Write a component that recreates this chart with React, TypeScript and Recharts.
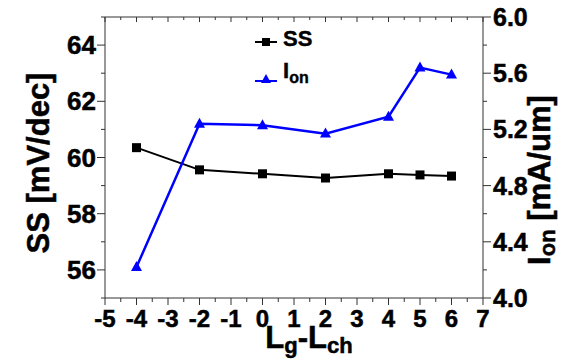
import { Legend, Line, LineChart, ReferenceLine, XAxis, YAxis } from 'recharts';

document.body.style.margin = '0';

const FONT = '"Liberation Sans", Arial, sans-serif';
const AXIS = '#333';
const PLOT_H = 281;

// Lg - Lch offsets and the two series
const gateOffsets = [-4, -2, 0, 2, 4, 5, 6];
const ssValues = [60.35, 59.56, 59.42, 59.27, 59.42, 59.38, 59.34];
const ionValues = [4.22, 5.24, 5.23, 5.17, 5.29, 5.64, 5.59];

const xTicks = [-5, -4.5, -4, -3.5, -3, -2.5, -2, -1.5, -1, -0.5, 0, 0.5, 1, 1.5, 2, 2.5, 3, 3.5, 4, 4.5, 5, 5.5, 6, 6.5, 7];
const xTickLabels = [-5, -4, -3, -2, -1, 0, 1, 2, 3, 4, 5, 6, 7];
const ssTicks = [55, 56, 57, 58, 59, 60, 61, 62, 63, 64, 65];
const ssTickLabels = [56, 58, 60, 62, 64];
const ionTicks = [4.0, 4.2, 4.4, 4.6, 4.8, 5.0, 5.2, 5.4, 5.6, 5.8, 6.0];
const ionTickLabels = ['4.0', '4.4', '4.8', '5.2', '5.6', '6.0'];

const rows = gateOffsets.map((x, i) => ({ x, ss: ssValues[i], ion: ionValues[i] }));

// heavier than plain bold, like the original export
const tickText = { fontFamily: FONT, fontWeight: 700, fill: '#000', stroke: '#000', strokeWidth: 0.5 };

function XTick(props: any) {
    const { x, y, payload } = props;
    const major = xTickLabels.includes(payload.value);
    return (
        <g>
            <line x1={x} x2={x} y1={y} y2={y + (major ? 7 : 4)} stroke={AXIS} />
            <line x1={x} x2={x} y1={y - PLOT_H} y2={y - PLOT_H + (major ? 5 : 3)} stroke={AXIS} />
            {major ? (
                <text x={x} y={y + 29} textAnchor="middle" fontSize={24} {...tickText}>
                    {payload.value}
                </text>
            ) : null}
        </g>
    );
}

function SsTick(props: any) {
    const { x, y, payload } = props;
    const major = ssTickLabels.includes(payload.value);
    return (
        <g>
            <line x1={x} x2={x - (major ? 8 : 4)} y1={y} y2={y} stroke={AXIS} />
            {major ? (
                <text x={x - 9} y={y + 9} textAnchor="end" fontSize={26} {...tickText}>
                    {payload.value}
                </text>
            ) : null}
        </g>
    );
}

function IonTick(props: any) {
    const { x, y, payload } = props;
    const label = Number(payload.value).toFixed(1);
    const major = ionTickLabels.includes(label);
    return (
        <g>
            <line x1={x} x2={x + (major ? 8 : 4)} y1={y} y2={y} stroke={AXIS} />
            {major ? (
                <text x={x + 10} y={y + 9} textAnchor="start" fontSize={25} {...tickText}>
                    {label}
                </text>
            ) : null}
        </g>
    );
}

function XLabel(props: any) {
    const vb = props.viewBox;
    return (
        <text x={vb.x + vb.width / 2 + 15} y={vb.y + 50} textAnchor="middle" fontSize={31} {...tickText}>
            L
            <tspan fontSize={22} dy={5}>g</tspan>
            <tspan fontSize={31} dy={-5}>-L</tspan>
            <tspan fontSize={22} dy={5}>ch</tspan>
        </text>
    );
}

function SsLabel(props: any) {
    const vb = props.viewBox;
    const cx = vb.x + 49;
    const cy = vb.y + 146;
    return (
        <text x={cx} y={cy} transform={`rotate(-90 ${cx} ${cy})`} textAnchor="middle" fontSize={31} {...tickText}>
            SS [mV/dec]
        </text>
    );
}

function IonLabel(props: any) {
    const vb = props.viewBox;
    const cx = vb.x + 67;
    const cy = vb.y + 163;
    return (
        <text x={cx} y={cy} transform={`rotate(-90 ${cx} ${cy})`} textAnchor="middle" fontSize={31} {...tickText}>
            I
            <tspan fontSize={22} dy={5}>on</tspan>
            <tspan fontSize={31} dy={-5}> [mA/um]</tspan>
        </text>
    );
}

function Square(props: any) {
    const { cx, cy, index } = props;
    return <rect key={`sq-${index}`} x={cx - 4.5} y={cy - 4.5} width={9} height={9} fill="#000" />;
}

function Triangle(props: any) {
    const { cx, cy, index } = props;
    return (
        <path
            key={`tri-${index}`}
            d={`M${cx},${cy - 6} L${cx + 5.5},${cy + 4} L${cx - 5.5},${cy + 4} Z`}
            fill="#0000ff"
        />
    );
}

function LegendBox() {
    const row = { display: 'flex', alignItems: 'center', height: 31 };
    const txt = {
        fontFamily: FONT,
        fontWeight: 700,
        fontSize: 22,
        color: '#000',
        marginLeft: 6,
        WebkitTextStroke: '0.4px #000',
    };
    return (
        <div>
            <div style={row}>
                <svg width={22} height={12}>
                    <line x1={0} x2={22} y1={6} y2={6} stroke="#000" strokeWidth={2} />
                    <rect x={7} y={2} width={8} height={8} fill="#000" />
                </svg>
                <span style={{ ...txt, marginTop: -6 }}>SS</span>
            </div>
            <div style={row}>
                <svg width={22} height={12} style={{ marginTop: 12 }}>
                    <line x1={0} x2={22} y1={8} y2={8} stroke="#0000ff" strokeWidth={2} />
                    <path d="M11,1 L16,10 L6,10 Z" fill="#0000ff" />
                </svg>
                <span style={txt}>
                    I<sub style={{ fontSize: 16, verticalAlign: -5 }}>on</sub>
                </span>
            </div>
        </div>
    );
}

export default function App() {
    return (
        <LineChart width={563} height={362} data={rows} margin={{ top: 17, right: 0, bottom: 0, left: 0 }}>
            <XAxis
                dataKey="x"
                type="number"
                domain={[-5, 7]}
                ticks={xTicks}
                interval={0}
                height={64}
                tickSize={0}
                tickMargin={0}
                tickLine={false}
                axisLine={{ stroke: AXIS }}
                tick={<XTick />}
                label={XLabel}
                allowDataOverflow
            />
            <YAxis
                yAxisId="ss"
                orientation="left"
                type="number"
                domain={[55, 65]}
                ticks={ssTicks}
                interval={0}
                width={105}
                tickSize={0}
                tickMargin={0}
                tickLine={false}
                axisLine={{ stroke: AXIS }}
                tick={<SsTick />}
                label={SsLabel}
                allowDataOverflow
            />
            <YAxis
                yAxisId="ion"
                orientation="right"
                type="number"
                domain={[4, 6]}
                ticks={ionTicks}
                interval={0}
                width={80}
                tickSize={0}
                tickMargin={0}
                tickLine={false}
                axisLine={{ stroke: AXIS }}
                tick={<IonTick />}
                label={IonLabel}
                allowDataOverflow
            />
            <ReferenceLine yAxisId="ss" y={65} stroke={AXIS} />
            <Legend
                layout="vertical"
                align="center"
                verticalAlign="middle"
                content={<LegendBox />}
                wrapperStyle={{ left: 255, top: 26, width: 'auto', height: 'auto' }}
            />
            <Line
                yAxisId="ss"
                dataKey="ss"
                name="SS"
                stroke="#000"
                strokeWidth={2}
                dot={<Square />}
                activeDot={false}
                isAnimationActive={false}
            />
            <Line
                yAxisId="ion"
                dataKey="ion"
                name="Ion"
                stroke="#0000ff"
                strokeWidth={2.5}
                dot={<Triangle />}
                activeDot={false}
                isAnimationActive={false}
            />
        </LineChart>
    );
}
